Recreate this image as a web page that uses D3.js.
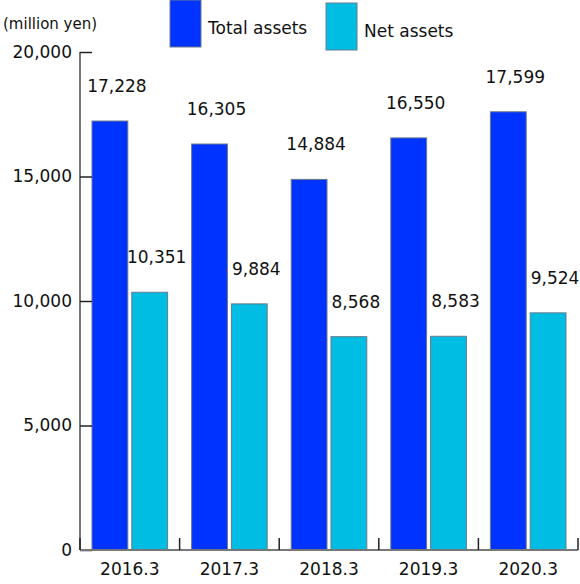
<!DOCTYPE html>
<html>
<head>
<meta charset="utf-8">
<script src="https://cdn.jsdelivr.net/npm/d3@7"></script>
<style>
  body { margin: 0; background: #fff; }
  text { font-family: "DejaVu Sans", Verdana, sans-serif; fill: #111; }
</style>
</head>
<body>
<div id="chart"></div>
<script>
// data
let years = ["2016.3", "2017.3", "2018.3", "2019.3", "2020.3"]
let totalAssets = [17228, 16305, 14884, 16550, 17599]
let netAssets = [10351, 9884, 8568, 8583, 9524]
let seriesNames = ["Total assets", "Net assets"]
let yTicks = [0, 5000, 10000, 15000, 20000]

let width = 580, height = 584
let margin = {top: 52, right: 2, bottom: 34, left: 80}

let colors = ["#0033ff", "#00bde3"]

let svg = d3.select('#chart')
    .append('svg')
    .attr('width', width)
    .attr('height', height)

// build rows from the arrays
let rows = years.map(function(y, i){
    return {year: y, values: [totalAssets[i], netAssets[i]]}
})

let x0 = d3.scaleBand()
    .domain(years)
    .range([margin.left, width - margin.right])

let x1 = d3.scaleBand()
    .domain(seriesNames)
    .range([12, x0.bandwidth() - 12])
    .paddingInner(0.1)

let y = d3.scaleLinear()
    .domain([0, 20000])
    .range([height - margin.bottom, margin.top])

let fmt = d3.format(",")

// bars
let groups = svg.selectAll('.grp')
    .data(rows)
    .enter()
    .append('g')
    .attr('class', 'grp')
    .attr('transform', function(d){ return "translate(" + x0(d.year) + ",0)" })

groups.selectAll('rect')
    .data(function(d){ return d.values.map(function(v, k){ return {key: seriesNames[k], k: k, v: v} }) })
    .enter()
    .append('rect')
    .attr('x', function(d){ return x1(d.key) })
    .attr('y', function(d){ return y(d.v) })
    .attr('width', x1.bandwidth())
    .attr('height', function(d){ return y(0) - y(d.v) })
    .style('fill', function(d){ return colors[d.k] })
    .style('stroke', '#6a7a8a')
    .style('stroke-width', 1)

// value labels
groups.selectAll('.val')
    .data(function(d){ return d.values.map(function(v, k){ return {key: seriesNames[k], v: v} }) })
    .enter()
    .append('text')
    .attr('class', 'val')
    .attr('x', function(d){ return x1(d.key) + x1.bandwidth()/2 + 7 })
    .attr('y', function(d){ return y(d.v) - 29 })
    .attr('text-anchor', 'middle')
    .style('font-size', '17px')
    .text(function(d){ return fmt(d.v) })

// y axis
let yAxis = svg.append('g')
    .attr('transform', "translate(" + margin.left + ",0)")
    .call(d3.axisRight(y).tickValues(yTicks).tickFormat(fmt).tickSize(12).tickPadding(-20))

yAxis.select('.domain').attr('d', "M0," + y(20000) + "V" + y(0)).style('stroke', '#777').style('stroke-width', 2)
yAxis.selectAll('.tick line').style('stroke', '#222').style('stroke-width', 1.5)
yAxis.selectAll('.tick text')
    .attr('x', -8)
    .attr('text-anchor', 'end')
    .style('font-size', '17px')
    .style('font-family', '"DejaVu Sans", Verdana, sans-serif')
    .style('fill', '#111')

// x axis
let xAxis = svg.append('g')
    .attr('transform', "translate(0," + y(0) + ")")
    .call(d3.axisBottom(x0).tickSize(0).tickPadding(13))

xAxis.select('.domain').attr('d', "M" + margin.left + ",0H" + (width - margin.right)).style('stroke', '#777').style('stroke-width', 2)
xAxis.selectAll('.tick text')
    .attr('dy', '0.71em')
    .style('font-size', '17px')
    .style('font-family', '"DejaVu Sans", Verdana, sans-serif')
    .style('fill', '#111')

// separators between categories
let bounds = [years[0]].concat(years).map(function(yr, i){
    return i == 0 ? x0(yr) : x0(yr) + x0.bandwidth()
})
svg.selectAll('.sep')
    .data(bounds)
    .enter()
    .append('line')
    .attr('x1', function(d){ return d })
    .attr('x2', function(d){ return d })
    .attr('y1', y(0))
    .attr('y2', y(0) - 12)
    .style('stroke', '#222')
    .style('stroke-width', 1.5)

// unit label
svg.append('text')
    .attr('x', 3)
    .attr('y', 29)
    .style('font-size', '15px')
    .text('(million yen)')

// legend
let legendX = [170, 326]
let legend = svg.selectAll('.leg')
    .data(seriesNames)
    .enter()
    .append('g')
    .attr('class', 'leg')
    .attr('transform', function(d, i){ return "translate(" + legendX[i] + "," + (i * 3) + ")" })

legend.append('rect')
    .attr('width', 31)
    .attr('height', 47)
    .style('fill', function(d, i){ return colors[i] })
    .style('stroke', '#6a7a8a')

legend.append('text')
    .attr('x', 38)
    .attr('y', 34)
    .style('font-size', '17px')
    .text(function(d){ return d })
</script>
</body>
</html>
